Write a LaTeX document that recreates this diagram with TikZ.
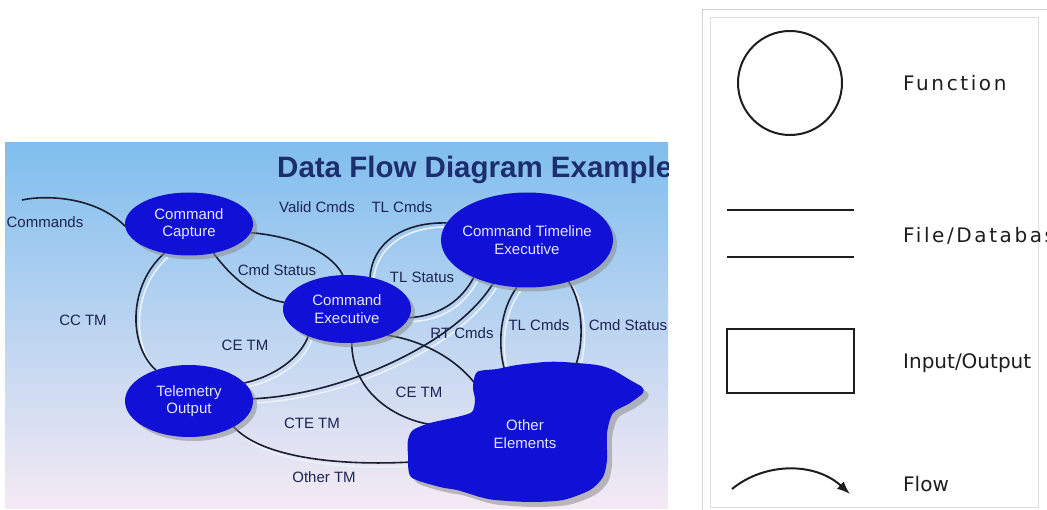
\documentclass[tikz,border=0pt]{standalone}
\usepackage{fontspec}
\setmainfont{Liberation Sans}
\newfontfamily\legendfont{DejaVu Sans}
\newfontfamily\legendwidefont{DejaVu Sans}[LetterSpace=13]
\usetikzlibrary{shapes.geometric,shadows,arrows.meta}

\definecolor{skytop}{RGB}{128,190,238}
\definecolor{skymid}{RGB}{198,221,242}
\definecolor{skybot}{RGB}{245,234,244}
\definecolor{procblue}{RGB}{16,16,214}
\definecolor{proctext}{RGB}{228,230,255}
\definecolor{labelnavy}{RGB}{28,36,84}
\definecolor{titlenavy}{RGB}{28,46,110}
\definecolor{flowdark}{RGB}{26,30,48}
\definecolor{flowpale}{RGB}{236,240,248}
\definecolor{boxgray}{RGB}{200,200,200}
\definecolor{legendink}{RGB}{30,30,30}

\pgfdeclarelayer{panel}
\pgfdeclarelayer{flows}
\pgfsetlayers{panel,flows,main}

% dark flow line with its pale offset copy
\newcommand\flowpair[1]{\draw[flowshade] #1; \draw[flow] #1;}

\begin{document}
\begin{tikzpicture}[x=1pt,y=-1pt,
  process/.style={ellipse, fill=procblue, inner sep=0pt, outer sep=0pt,
    text=proctext, align=center, font=\fontsize{15}{17.5}\selectfont,
    drop shadow={shadow xshift=4pt, shadow yshift=-4pt, fill=black!45, opacity=.55}},
  flowlabel/.style={text=labelnavy, font=\fontsize{15}{17}\selectfont, inner sep=0pt},
  flow/.style={draw=flowdark, line width=1.6pt},
  flowshade/.style={draw=flowpale, line width=1.6pt,
    transform canvas={shift={(3.5pt,-4pt)}}},
  legendline/.style={draw=legendink, line width=2pt},
  legendtext/.style={anchor=base west, inner sep=0pt, text=legendink,
    font=\legendfont\fontsize{20}{24}\selectfont},
]
\useasboundingbox (0,0) rectangle (1047,510);

% backdrop of the diagram panel
\begin{pgfonlayer}{panel}
  \fill[white] (0,0) rectangle (1047,510);
  \shade[top color=skytop, middle color=skymid, bottom color=skybot]
    (5,143) rectangle (668,508);
\end{pgfonlayer}

\begin{scope}
\clip (5,143) rectangle (668,508);

\node[anchor=base west, inner sep=0pt, text=titlenavy,
  font=\fontsize{29.5}{30}\selectfont\bfseries] (title) at (277,178)
  {Data Flow Diagram Example};

% processes
\node[process, minimum width=128pt, minimum height=63pt] (cc) at (189,224) {Command\\Capture};
\node[process, minimum width=128pt, minimum height=68pt] (ce) at (347,309) {Command\\Executive};
\node[process, minimum width=172pt, minimum height=95pt] (cte) at (527,240)
  {\makebox[0pt]{Command Timeline}\\Executive};
\node[process, minimum width=128pt, minimum height=72pt] (to) at (189,401) {Telemetry\\Output};

% external element
\fill[black!45, opacity=.55, shift={(5,5)}] plot[smooth cycle, tension=.45] coordinates {
  (473,387) (477,372) (497,369) (517,365) (545,362) (563,362) (597,365) (613,370)
  (630,380) (642,387) (643,393) (630,403) (613,413) (607,433) (607,460) (603,477)
  (590,490) (563,500) (530,502) (495,500) (480,497) (457,490) (440,487) (411,477)
  (408,455) (408,440) (413,430) (430,423) (457,417) (472,412) (475,400)};
\fill[procblue] plot[smooth cycle, tension=.45] coordinates {
  (473,387) (477,372) (497,369) (517,365) (545,362) (563,362) (597,365) (613,370)
  (630,380) (642,387) (643,393) (630,403) (613,413) (607,433) (607,460) (603,477)
  (590,490) (563,500) (530,502) (495,500) (480,497) (457,490) (440,487) (411,477)
  (408,455) (408,440) (413,430) (430,423) (457,417) (472,412) (475,400)};
\node[text=proctext, align=center, font=\fontsize{15}{17.5}\selectfont, inner sep=0pt]
  (oe) at (525,434) {Other\\Elements};

\coordinate (cmdin) at (22,200);
\coordinate (oeTL) at (505,371);
\coordinate (oeCS) at (575,367);
\coordinate (oeRT) at (479,389);
\coordinate (oeCE) at (434,425);
\coordinate (oeOT) at (412,462);

% flow labels
\node[flowlabel] (lcommands) at (45,222) {Commands};
\node[flowlabel] (lvalid) at (317,207) {Valid Cmds};
\node[flowlabel] (ltlcmdsa) at (402,207) {TL Cmds};
\node[flowlabel] (lcmdstata) at (277,270) {Cmd Status};
\node[flowlabel] (ltlstatus) at (422,277) {TL Status};
\node[flowlabel] (lcctm) at (83,320) {CC TM};
\node[flowlabel] (lcetma) at (245,345) {CE TM};
\node[flowlabel] (lrtcmds) at (462,333) {RT Cmds};
\node[flowlabel] (ltlcmdsb) at (539,325) {TL Cmds};
\node[flowlabel] (lcmdstatb) at (628,325) {Cmd Status};
\node[flowlabel] (lcetmb) at (419,392) {CE TM};
\node[flowlabel] (lctetm) at (312,423) {CTE TM};
\node[flowlabel] (lothertm) at (324,477) {Other TM};
\end{scope}

% data flows
\begin{pgfonlayer}{flows}
  \draw[flow] (cmdin) .. controls (45,195) and (95,196) .. (cc.182);
  \draw[flow] (cc.-8) .. controls (290,236) and (330,250) .. (ce.97);
  \draw[flow] (cc.-50) .. controls (235,282) and (258,298) .. (ce.174);
  \flowpair{(cc.-130) .. controls (128,285) and (128,345) .. (to.137)}
  \flowpair{(ce.-145) .. controls (300,358) and (275,376) .. (to.18)}
  \flowpair{(cte.-128) .. controls (455,345) and (340,395) .. (to.2)}
  \flowpair{(ce.54) .. controls (372,245) and (400,222) .. (cte.168)}
  \flowpair{(cte.-145) .. controls (462,300) and (440,316) .. (ce.-8)}
  \flowpair{(cte.-102) .. controls (500,310) and (497,345) .. (oeTL)}
  \flowpair{(cte.-45) .. controls (584,305) and (584,345) .. (oeCS)}
  \draw[flow] (ce.-33) .. controls (420,340) and (458,358) .. (oeRT);
  \draw[flow] (ce.-82) .. controls (352,392) and (395,420) .. (oeCE);
  \flowpair{(to.-30) .. controls (262,458) and (340,466) .. (oeOT)}
\end{pgfonlayer}

% legend
\draw[boxgray!80, line width=1pt] (702,10) rectangle (1060,520);
\draw[boxgray!60, line width=1pt] (710,18) rectangle (1038,507);

\node[circle, draw=legendink, line width=2pt, minimum size=104pt, inner sep=0pt]
  (fnsym) at (790,83) {};
\node[legendtext, font=\legendwidefont\fontsize{20}{24}\selectfont] (fntext) at (903,91) {Function};

\coordinate (dbA) at (727,210);
\coordinate (dbB) at (854,210);
\coordinate (dbC) at (727,257);
\coordinate (dbD) at (854,257);
\draw[legendline] (dbA) -- (dbB);
\draw[legendline] (dbC) -- (dbD);
\begin{scope}
\clip (700,0) rectangle (1047,510);
\node[legendtext, font=\legendwidefont\fontsize{20}{24}\selectfont] (dbtext) at (903,243) {File/Database};
\end{scope}

\node[draw=legendink, line width=2pt, minimum width=127pt, minimum height=64pt, inner sep=0pt]
  (iosym) at (790.5,361) {};
\node[legendtext] (iotext) at (903,369) {Input/Output};

\coordinate (flA) at (732,489);
\coordinate (flB) at (850,494);
\draw[legendline, -{Latex[length=13pt,width=10pt]}]
  (flA) .. controls (765,462) and (815,462) .. (flB);
\node[legendtext] (fltext) at (903,491) {Flow};
\end{tikzpicture}
\end{document}
